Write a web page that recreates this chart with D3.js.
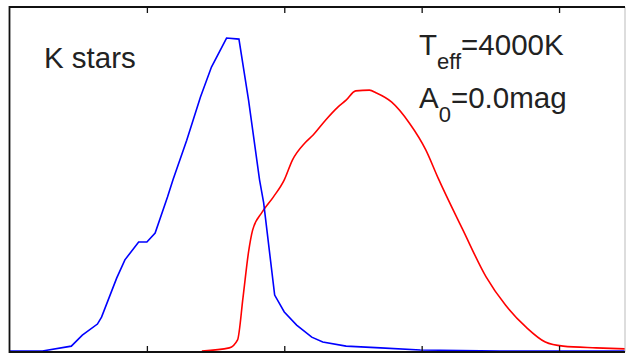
<!DOCTYPE html>
<html>
<head>
<meta charset="utf-8">
<script src="https://cdn.jsdelivr.net/npm/d3@7"></script>
<style>
  body { margin: 0; background: #fff; }
  svg { display: block; }
  text { font-family: "Liberation Sans", Arial, sans-serif; fill: #222; }
</style>
</head>
<body>
<svg width="626" height="358"></svg>
<script>
// data (x in arbitrary units, y normalised)
var blueX = [0.00, 0.24, 0.45, 0.53, 0.64, 0.67, 0.78, 0.84, 0.94, 1.00, 1.06, 1.15, 1.19, 1.29, 1.39, 1.47, 1.58, 1.67, 1.74, 1.82, 1.85, 1.93, 2.00, 2.09, 2.20, 2.28, 2.45, 2.70, 2.99, 3.57, 4.48];
var blueY = [0.003, 0.003, 0.017, 0.049, 0.081, 0.101, 0.214, 0.267, 0.319, 0.319, 0.345, 0.449, 0.499, 0.614, 0.739, 0.826, 0.910, 0.907, 0.730, 0.499, 0.432, 0.165, 0.116, 0.078, 0.043, 0.029, 0.017, 0.012, 0.006, 0.003, 0.003];

var redX = [1.40, 1.60, 1.66, 1.70, 1.74, 1.77, 1.84, 1.92, 2.00, 2.06, 2.15, 2.21, 2.30, 2.39, 2.45, 2.52, 2.62, 2.67, 2.78, 2.91, 3.03, 3.12, 3.30, 3.47, 3.61, 3.76, 3.90, 4.03, 4.27, 4.48];
var redY = [0.003, 0.012, 0.035, 0.159, 0.290, 0.354, 0.406, 0.449, 0.499, 0.557, 0.606, 0.629, 0.672, 0.710, 0.730, 0.757, 0.759, 0.751, 0.725, 0.664, 0.586, 0.504, 0.354, 0.217, 0.136, 0.072, 0.029, 0.017, 0.012, 0.009];

var tickVals = [1, 2, 3, 4];

var box = {left: 9.5, right: 625, top: 7, bottom: 352};

var x = d3.scaleLinear().domain([0, 4.48]).range([box.left, box.right]);
var y = d3.scaleLinear().domain([0, 1]).range([box.bottom, box.top]);

var svg = d3.select("svg");

var line = d3.line()
             .x(function(d) { return x(d[0]); })
             .y(function(d) { return y(d[1]); });

var smooth = d3.line()
               .x(function(d) { return x(d[0]); })
               .y(function(d) { return y(d[1]); })
               .curve(d3.curveMonotoneX);

var blue = d3.zip(blueX, blueY);
var red = d3.zip(redX, redY);

svg.append("path")
   .datum(red)
   .attr("d", smooth)
   .attr("fill", "none")
   .attr("stroke", "#ff0000")
   .attr("stroke-width", 1.6);

svg.append("path")
   .datum(blue)
   .attr("d", line)
   .attr("fill", "none")
   .attr("stroke", "#0000ff")
   .attr("stroke-width", 1.6);

// ticks pointing inward, top and bottom
svg.append("g")
   .attr("transform", "translate(0," + box.bottom + ")")
   .call(d3.axisBottom(x).tickValues(tickVals).tickSize(-6).tickFormat(""))
   .call(function(g) { g.select(".domain").remove(); })
   .selectAll("line").attr("stroke", "#111").attr("stroke-width", 1.3);

svg.append("g")
   .attr("transform", "translate(0," + box.top + ")")
   .call(d3.axisTop(x).tickValues(tickVals).tickSize(-6).tickFormat(""))
   .call(function(g) { g.select(".domain").remove(); })
   .selectAll("line").attr("stroke", "#111").attr("stroke-width", 1.3);

// frame
svg.append("line")
   .attr("x1", box.right).attr("x2", box.right)
   .attr("y1", box.top).attr("y2", box.bottom)
   .attr("stroke", "#bbb").attr("stroke-width", 1);
svg.append("path")
   .attr("d", "M" + box.right + "," + box.top + "H" + box.left + "V" + box.bottom + "H" + box.right)
   .attr("fill", "none")
   .attr("stroke", "#111")
   .attr("stroke-width", 1.8);

// labels
svg.append("text")
   .attr("x", 44).attr("y", 68)
   .style("font-size", "29.5px")
   .text("K stars");

var t1 = svg.append("text").attr("x", 419).attr("y", 55).style("font-size", "29.5px");
t1.append("tspan").text("T");
t1.append("tspan").attr("dy", 14).style("font-size", "22px").text("eff");
t1.append("tspan").attr("dy", -14).text("=4000K");

var t2 = svg.append("text").attr("x", 419).attr("y", 108).style("font-size", "29.5px");
t2.append("tspan").text("A");
t2.append("tspan").attr("dy", 14).style("font-size", "22px").text("0");
t2.append("tspan").attr("dy", -14).text("=0.0mag");
</script>
</body>
</html>
